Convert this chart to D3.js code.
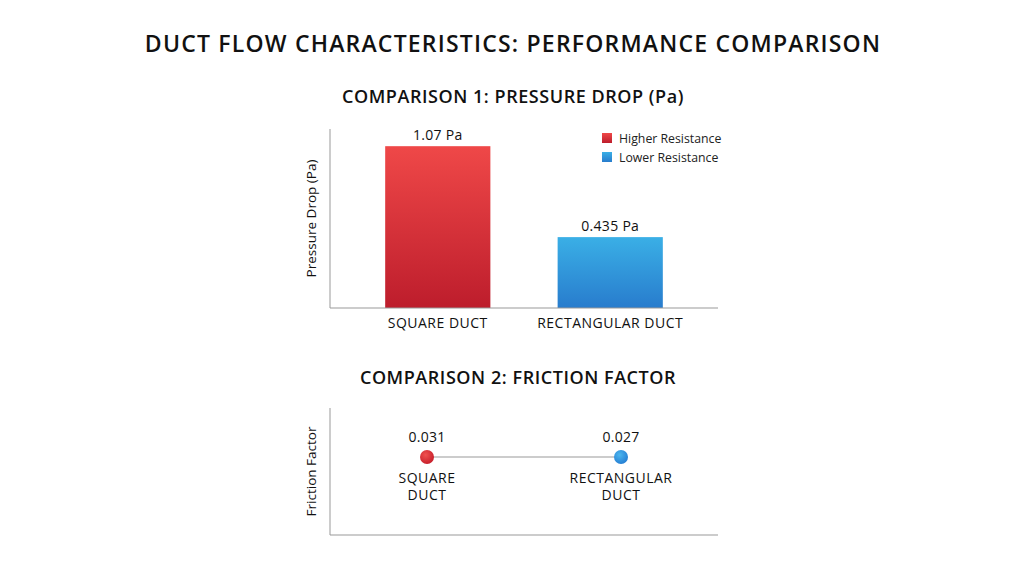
<!DOCTYPE html>
<html>
<head>
<meta charset="utf-8">
<script src="https://cdn.jsdelivr.net/npm/d3@7"></script>
<style>
  body { margin: 0; background: #fff; }
  svg { display: block; font-family: "Open Sans", "Noto Sans", sans-serif; }
</style>
</head>
<body>
<svg id="chart" width="1024" height="572"></svg>
<script>
// data
const ducts = ["SQUARE DUCT", "RECTANGULAR DUCT"];
const ductLines = [["SQUARE", "DUCT"], ["RECTANGULAR", "DUCT"]];
const pressureDrop = [1.07, 0.435];
const pressureLabels = ["1.07 Pa", "0.435 Pa"];
const frictionFactor = [0.031, 0.027];
const frictionLabels = ["0.031", "0.027"];
const legendNames = ["Higher Resistance", "Lower Resistance"];

const svg = d3.select("#chart");

// gradients
const defs = svg.append("defs");
const grads = [
  { id: "gRed", top: "#ef4848", bottom: "#bd1d2c" },
  { id: "gBlue", top: "#3aafe6", bottom: "#287ccd" },
];
grads.forEach((g) => {
  const lg = defs.append("linearGradient").attr("id", g.id)
    .attr("x1", 0).attr("y1", 0).attr("x2", 0).attr("y2", 1);
  lg.append("stop").attr("offset", "0%").attr("stop-color", g.top);
  lg.append("stop").attr("offset", "100%").attr("stop-color", g.bottom);
});
const dotGrads = [
  { id: "dRed", c1: "#f0514f", c2: "#c8202c" },
  { id: "dBlue", c1: "#4cb6ee", c2: "#2680d4" },
];
dotGrads.forEach((g) => {
  const rg = defs.append("radialGradient").attr("id", g.id)
    .attr("cx", "40%").attr("cy", "35%").attr("r", "65%");
  rg.append("stop").attr("offset", "0%").attr("stop-color", g.c1);
  rg.append("stop").attr("offset", "100%").attr("stop-color", g.c2);
});
const fills = ["url(#gRed)", "url(#gBlue)"];
const dotFills = ["url(#dRed)", "url(#dBlue)"];

// main title
svg.append("text")
  .attr("x", 513).attr("y", 52)
  .attr("text-anchor", "middle")
  .attr("font-size", 23).attr("font-weight", 600)
  .attr("letter-spacing", 1.2)
  .attr("fill", "#111")
  .text("DUCT FLOW CHARACTERISTICS: PERFORMANCE COMPARISON");

// ---- comparison 1: bars
const left = 330, right = 718;
const top1 = 129, base1 = 308;

svg.append("text")
  .attr("x", 513).attr("y", 103)
  .attr("text-anchor", "middle")
  .attr("font-size", 18).attr("font-weight", 600)
  .attr("letter-spacing", 0.55)
  .attr("fill", "#111")
  .text("COMPARISON 1: PRESSURE DROP (Pa)");

const x1 = d3.scaleBand().domain(ducts).range([left, right])
  .paddingInner(0.39).paddingOuter(0.32);
const y1 = d3.scaleLinear().domain([-0.06, 1.19]).range([base1, top1]);

const g1 = svg.append("g");
g1.selectAll("rect.bar").data(ducts).enter().append("rect")
  .attr("class", "bar")
  .attr("x", (d) => x1(d))
  .attr("width", x1.bandwidth())
  .attr("y", (d, i) => y1(pressureDrop[i]))
  .attr("height", (d, i) => base1 - y1(pressureDrop[i]))
  .attr("fill", (d, i) => fills[i]);

g1.selectAll("text.val").data(ducts).enter().append("text")
  .attr("class", "val")
  .attr("x", (d) => x1(d) + x1.bandwidth() / 2)
  .attr("y", (d, i) => y1(pressureDrop[i]) - 6)
  .attr("text-anchor", "middle")
  .attr("font-size", 14).attr("font-weight", 500)
  .attr("letter-spacing", 0.3)
  .attr("fill", "#111")
  .text((d, i) => pressureLabels[i]);

// axes (no ticks)
const xAxis1 = svg.append("g").attr("transform", `translate(0,${base1})`)
  .call(d3.axisBottom(x1).tickSize(0).tickPadding(10));
xAxis1.select(".domain").attr("stroke", "#999").attr("d", `M${left},0H${right}`);
xAxis1.selectAll("text").attr("font-size", 14).attr("fill", "#111")
  .attr("font-weight", 500).attr("letter-spacing", 0.5)
  .attr("font-family", "Open Sans, sans-serif");

svg.append("line")
  .attr("x1", left).attr("x2", left).attr("y1", top1).attr("y2", base1)
  .attr("stroke", "#999");

svg.append("text")
  .attr("transform", `translate(316,${(top1 + base1) / 2}) rotate(-90)`)
  .attr("text-anchor", "middle")
  .attr("font-size", 13.5).attr("fill", "#111")
  .text("Pressure Drop (Pa)");

// legend
const legend = svg.append("g").attr("transform", "translate(602,133)");
legendNames.forEach((name, i) => {
  legend.append("rect").attr("x", 0).attr("y", i * 19)
    .attr("width", 10).attr("height", 10)
    .attr("fill", fills[i]);
  legend.append("text").attr("x", 17).attr("y", i * 19 + 9.5)
    .attr("font-size", 12.3).attr("fill", "#222")
    .text(name);
});

// ---- comparison 2: friction factor points
const top2 = 408, base2 = 535, rowY = 457;

svg.append("text")
  .attr("x", 518).attr("y", 384)
  .attr("text-anchor", "middle")
  .attr("font-size", 18).attr("font-weight", 600)
  .attr("letter-spacing", 0.55)
  .attr("fill", "#111")
  .text("COMPARISON 2: FRICTION FACTOR");

const x2 = d3.scalePoint().domain(ducts).range([left, right]).padding(0.5);

svg.append("line")
  .attr("x1", left).attr("x2", left).attr("y1", top2).attr("y2", base2)
  .attr("stroke", "#999");
svg.append("line")
  .attr("x1", left).attr("x2", right).attr("y1", base2).attr("y2", base2)
  .attr("stroke", "#999");

svg.append("line")
  .attr("x1", x2(ducts[0])).attr("x2", x2(ducts[1]))
  .attr("y1", rowY).attr("y2", rowY)
  .attr("stroke", "#bbb").attr("stroke-width", 1.5);

const g2 = svg.append("g");
g2.selectAll("circle").data(ducts).enter().append("circle")
  .attr("cx", (d) => x2(d)).attr("cy", rowY).attr("r", 7)
  .attr("fill", (d, i) => dotFills[i]);

g2.selectAll("text.val").data(ducts).enter().append("text")
  .attr("class", "val")
  .attr("x", (d) => x2(d)).attr("y", rowY - 15)
  .attr("text-anchor", "middle")
  .attr("font-size", 14).attr("font-weight", 500).attr("fill", "#111")
  .attr("letter-spacing", 0.3)
  .text((d, i) => frictionLabels[i]);

g2.selectAll("text.cat").data(ducts).enter().append("text")
  .attr("class", "cat")
  .attr("x", (d) => x2(d)).attr("y", rowY + 26)
  .attr("text-anchor", "middle")
  .attr("font-size", 14).attr("font-weight", 500).attr("fill", "#111")
  .attr("letter-spacing", 0.5)
  .each(function (d, i) {
    ductLines[i].forEach((line, k) => {
      d3.select(this).append("tspan")
        .attr("x", x2(d)).attr("dy", k === 0 ? 0 : 17)
        .text(line);
    });
  });

svg.append("text")
  .attr("transform", `translate(316,${(top2 + base2) / 2}) rotate(-90)`)
  .attr("text-anchor", "middle")
  .attr("font-size", 13.5).attr("fill", "#111")
  .text("Friction Factor");
</script>
</body>
</html>
